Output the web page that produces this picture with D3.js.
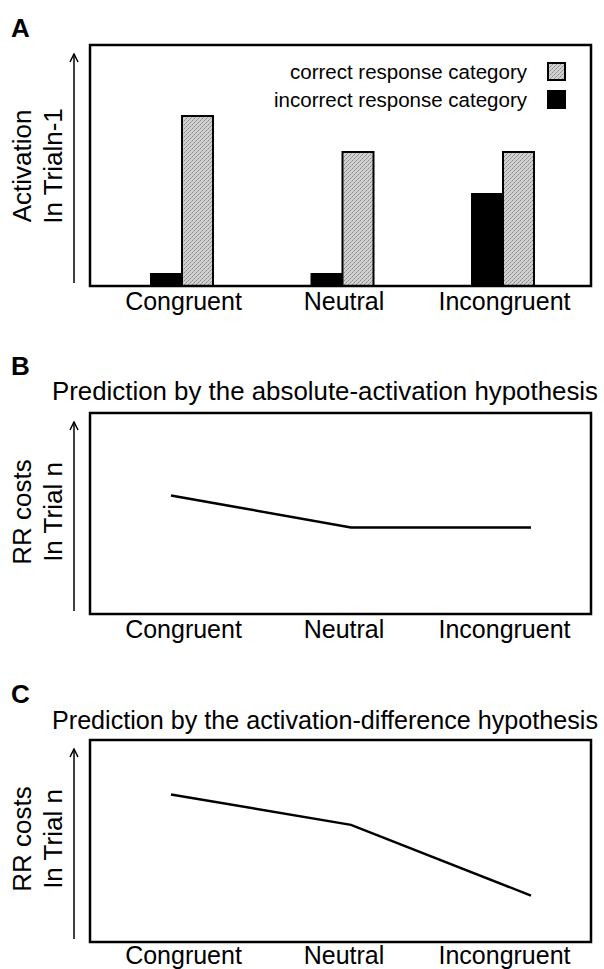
<!DOCTYPE html>
<html>
<head>
<meta charset="utf-8">
<script src="https://cdn.jsdelivr.net/npm/d3@7"></script>
<style>
	body { margin: 0; background: white; }
	text { font-family: "Liberation Sans", Arial, Helvetica, sans-serif; fill: black; }
</style>
</head>
<body>
<div id="chart"></div>
<script>

var categories = ["Congruent", "Neutral", "Incongruent"];

// panel A: activation in trial n-1 (arbitrary units, 0-100)
var correct_activation = [85, 67, 67];
var incorrect_activation = [6, 6, 46];
var legend_labels = ["correct response category", "incorrect response category"];

// panels B and C: predicted RR costs (arbitrary units, 0-100)
var absolute_prediction = [59, 43, 43];
var difference_prediction = [73, 58, 23];

var panel_titles = ["Prediction by the absolute-activation hypothesis",
                    "Prediction by the activation-difference hypothesis"];

var width = 604;
var height = 969;

var svg = d3.select("#chart")
		.append("svg")
		.attr("width", width)
		.attr("height", height);

var defs = svg.append("defs");

defs.append("marker")
	.attr("id", "arrow")
	.attr("viewBox", "0 0 10 10")
	.attr("refX", 9)
	.attr("refY", 5)
	.attr("markerWidth", 10)
	.attr("markerHeight", 10)
	.attr("markerUnits", "userSpaceOnUse")
	.attr("orient", "auto")
	.append("path")
	.attr("d", "M1,1 L9,5 L1,9")
	.attr("fill", "none")
	.attr("stroke", "black")
	.attr("stroke-width", 1.5);

// fine stipple gray like the printed bars
var pat = defs.append("pattern")
	.attr("id", "stipple")
	.attr("width", 4)
	.attr("height", 4)
	.attr("patternUnits", "userSpaceOnUse");
pat.append("rect").attr("width", 4).attr("height", 4).attr("fill", "#cfcfcf");
pat.append("rect").attr("x", 0).attr("y", 0).attr("width", 1).attr("height", 1).attr("fill", "#8a8a8a");
pat.append("rect").attr("x", 2).attr("y", 2).attr("width", 1).attr("height", 1).attr("fill", "#8a8a8a");
pat.append("rect").attr("x", 3).attr("y", 1).attr("width", 1).attr("height", 1).attr("fill", "#a8a8a8");
pat.append("rect").attr("x", 1).attr("y", 3).attr("width", 1).attr("height", 1).attr("fill", "#a8a8a8");


function drawPanel(opts) {

	var left = 90, right = 591;
	var top = opts.top, bottom = opts.bottom;

	var g = svg.append("g");

	// panel letter
	g.append("text")
		.attr("x", 11)
		.attr("y", opts.letterY)
		.attr("font-size", 26)
		.attr("font-weight", "bold")
		.text(opts.letter);

	if (opts.title) {
		g.append("text")
			.attr("x", 325)
			.attr("y", opts.titleY)
			.attr("text-anchor", "middle")
			.attr("font-size", 25)
			.attr("textLength", 546)
			.attr("lengthAdjust", "spacingAndGlyphs")
			.text(opts.title);
	}

	var yScale = d3.scaleLinear()
		.domain([0, 100])
		.range([bottom, top]);

	var labelScale = d3.scalePoint()
		.domain(categories)
		.range([183, 504]);

	// category labels under the frame
	var xAxis = d3.axisBottom(labelScale).tickSize(0).tickPadding(0);
	var xAxisHandle = g.append("g")
		.attr("transform", "translate(0," + opts.labelY + ")")
		.call(xAxis);
	xAxisHandle.select(".domain").remove();
	xAxisHandle.selectAll("text")
		.attr("dy", 0)
		.attr("y", 0)
		.attr("font-size", 25)
		.attr("fill", "black")
		.style("font-family", "'Liberation Sans', Arial, sans-serif");

	// y label with upward arrow
	g.append("line")
		.attr("x1", 74)
		.attr("x2", 74)
		.attr("y1", bottom - 3)
		.attr("y2", top + 9)
		.attr("stroke", "black")
		.attr("stroke-width", 1.5)
		.attr("marker-end", "url(#arrow)");

	var mid = opts.ylabelMid;
	g.selectAll(".ylab")
		.data(opts.ylabel)
		.enter()
		.append("text")
		.attr("class", "ylab")
		.attr("transform", function(d, i) {
			return "translate(" + (31 + i * 31) + "," + mid + ") rotate(-90)";
		})
		.attr("text-anchor", "middle")
		.attr("font-size", 26)
		.text(function(d) { return d; });

	return { g: g, yScale: yScale, left: left, right: right, top: top, bottom: bottom };
}

function drawFrame(p) {
	p.g.append("rect")
		.attr("x", p.left)
		.attr("y", p.top)
		.attr("width", p.right - p.left)
		.attr("height", p.bottom - p.top)
		.attr("fill", "none")
		.attr("stroke", "black")
		.attr("stroke-width", 2.5);
}


// ---- panel A: bar chart ----
var pa = drawPanel({
	letter: "A", letterY: 37,
	top: 45, bottom: 286,
	labelY: 310,
	ylabel: ["Activation", "In Trialn-1"], ylabelMid: 166
});
pa.yScale.domain([0, 100]).range([286, 86]);

var groupScale = d3.scalePoint()
	.domain(categories)
	.range([182, 503]);

var barScale = d3.scaleBand()
	.domain(["incorrect", "correct"])
	.range([-31, 31]);

var barData = [];
categories.forEach(function(c, i) {
	barData.push({ cat: c, kind: "incorrect", value: incorrect_activation[i] });
	barData.push({ cat: c, kind: "correct", value: correct_activation[i] });
});

pa.g.selectAll(".bar")
	.data(barData)
	.enter()
	.append("rect")
	.attr("class", "bar")
	.attr("x", function(d) { return groupScale(d.cat) + barScale(d.kind); })
	.attr("y", function(d) { return pa.yScale(d.value); })
	.attr("width", barScale.bandwidth())
	.attr("height", function(d) { return pa.yScale(0) - pa.yScale(d.value); })
	.attr("fill", function(d) { return d.kind === "correct" ? "url(#stipple)" : "black"; })
	.attr("stroke", "black")
	.attr("stroke-width", 2);

drawFrame(pa);

// legend
var legend = pa.g.selectAll(".legend")
	.data(legend_labels)
	.enter()
	.append("g")
	.attr("class", "legend")
	.attr("transform", function(d, i) { return "translate(0," + (i * 28) + ")"; });

legend.append("text")
	.attr("x", 527)
	.attr("y", 79)
	.attr("text-anchor", "end")
	.attr("font-size", 20.5)
	.text(function(d) { return d; });

legend.append("rect")
	.attr("x", 548)
	.attr("y", 63)
	.attr("width", 17)
	.attr("height", 17)
	.attr("fill", function(d, i) { return i === 0 ? "url(#stipple)" : "black"; })
	.attr("stroke", "black")
	.attr("stroke-width", 2);


// ---- panels B and C: line charts ----
function drawLinePanel(opts, values) {
	var p = drawPanel(opts);
	drawFrame(p);

	var lineScale = d3.scalePoint()
		.domain(categories)
		.range([171, 531]);

	var line = d3.line()
		.x(function(d, i) { return lineScale(categories[i]); })
		.y(function(d) { return p.yScale(d); });

	p.g.append("path")
		.datum(values)
		.attr("d", line)
		.attr("fill", "none")
		.attr("stroke", "black")
		.attr("stroke-width", 2.5);
}

drawLinePanel({
	letter: "B", letterY: 375,
	title: panel_titles[0], titleY: 400,
	top: 413, bottom: 614,
	labelY: 638,
	ylabel: ["RR costs", "In Trial n"], ylabelMid: 512
}, absolute_prediction);

drawLinePanel({
	letter: "C", letterY: 703,
	title: panel_titles[1], titleY: 729,
	top: 740, bottom: 942,
	labelY: 964,
	ylabel: ["RR costs", "In Trial n"], ylabelMid: 839
}, difference_prediction);

</script>
</body>
</html>
